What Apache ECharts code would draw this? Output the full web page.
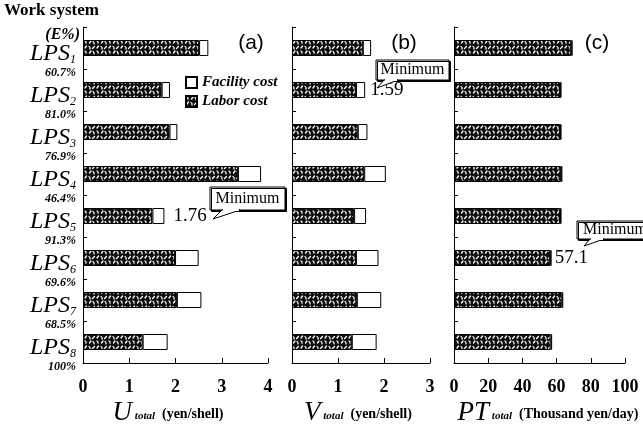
<!DOCTYPE html>
<html><head><meta charset="utf-8">
<script src="https://cdn.jsdelivr.net/npm/echarts@6/dist/echarts.min.js"></script>
<style>html,body{margin:0;padding:0;background:#fff}#c{width:643px;height:432px}</style>
</head><body><div id="c"></div>
<script>
// ---- data ----
const categories = ['1','2','3','4','5','6','7','8'];
const efficiency = ['60.7%','81.0%','76.9%','46.4%','91.3%','69.6%','68.5%','100%'];
const uLabor    = [2.51, 1.70, 1.87, 3.35, 1.50, 1.99, 2.03, 1.29];
const uFacility = [0.20, 0.18, 0.17, 0.50, 0.26, 0.51, 0.53, 0.54];
const vLabor    = [1.54, 1.39, 1.43, 1.57, 1.35, 1.39, 1.41, 1.30];
const vFacility = [0.18, 0.20, 0.21, 0.47, 0.26, 0.49, 0.53, 0.54];
const ptLabor    = [68.5, 62.0, 62.0, 62.5, 62.0, 56.2, 63.0, 56.5];
const ptFacility = [0.9, 0.9, 0.9, 0.9, 0.9, 0.9, 0.9, 0.9];
const uTicks = [0, 4, 1];      // min, max, interval
const vTicks = [0, 3, 1];
const ptTicks = [0, 100, 20];
const minimumMarks = [
  {panel: 'u', index: 4, text: '1.76'},
  {panel: 'v', index: 1, text: '1.59'},
  {panel: 'pt', index: 5, text: '57.1'}
];
const labelGap = {u: 9, v: 5, pt: 3};

const SERIF = 'Liberation Serif';
function makePattern(){
  const c = document.createElement('canvas'); c.width = 12; c.height = 10;
  const g = c.getContext('2d');
  g.fillStyle = '#0d0d0d'; g.fillRect(0,0,12,10);
  g.strokeStyle = '#fff'; g.lineWidth = 1.3; g.lineCap = 'round';
  g.beginPath();
  g.moveTo(1,1); g.quadraticCurveTo(2.5,1.5,2,3.2);
  g.moveTo(5.5,3); g.lineTo(7,1);
  g.moveTo(9,1.5); g.quadraticCurveTo(10.5,2.5,10,4);
  g.moveTo(2.5,6); g.lineTo(1,8);
  g.moveTo(5,6.5); g.quadraticCurveTo(6.5,7,6,9);
  g.moveTo(8.5,8.5); g.lineTo(10.5,6.5);
  g.stroke();
  return c;
}
const hatch = {image: makePattern(), repeat: 'repeat'};

const grids = [
  {left: 83, top: 27, width: 185, height: 336},
  {left: 292, top: 27, width: 138, height: 336},
  {left: 454, top: 27, width: 171, height: 336}
];
function xAxis(i, t){
  return {type:'value', gridIndex:i, min:t[0], max:t[1], interval:t[2],
    axisLine:{show:true, lineStyle:{color:'#000', width:1}},
    axisTick:{show:true, inside:true, length:5, lineStyle:{color:'#000'}},
    splitLine:{show:false},
    axisLabel:{margin:15, color:'#000', fontFamily:SERIF, fontWeight:'bold', fontSize:18, showMaxLabel:true, showMinLabel:true}};
}
function yAxis(i, showLabel){
  return {type:'category', gridIndex:i, data:categories, inverse:true,
    axisLine:{show:true, lineStyle:{color:'#000', width:1}},
    axisTick:{show:true, inside:true, length:4, lineStyle:{color:'#000'}},
    axisLabel: showLabel ? {
      margin:7, color:'#000', padding:[26,0,0,0],
      formatter:(v, idx) => `{a|LPS}{s|${v}}\n{p|${efficiency[idx]}}`,
      rich:{
        a:{fontFamily:SERIF, fontStyle:'italic', fontSize:24, lineHeight:24, color:'#000'},
        s:{fontFamily:SERIF, fontStyle:'italic', fontSize:12, lineHeight:24, verticalAlign:'bottom', color:'#000'},
        p:{fontFamily:SERIF, fontStyle:'italic', fontWeight:'bold', fontSize:12, lineHeight:14, color:'#000'}
      }} : {show:false}};
}
function facilityData(arr, key){
  return arr.map((v, i) => {
    const m = minimumMarks.find(mm => mm.panel === key && mm.index === i);
    if (!m) return v;
    return {value: v, label:{show:true, position:'right', distance:labelGap[key], formatter:m.text,
      fontFamily:SERIF, fontSize:19, color:'#000'}};
  });
}
function seriesPair(i, labor, facility, key){
  return [
    {name:'Labor cost', type:'bar', xAxisIndex:i, yAxisIndex:i, stack:'s'+i, barWidth:16,
      data:labor, itemStyle:{color:hatch, borderColor:'#000', borderWidth:1}, silent:true},
    {name:'Facility cost', type:'bar', xAxisIndex:i, yAxisIndex:i, stack:'s'+i, barWidth:16,
      data:facilityData(facility, key), itemStyle:{color:'#fff', borderColor:'#000', borderWidth:1}, silent:true}
  ];
}
function callout(x, y, w, h, tail, textX){
  return {type:'group', children:[
    {type:'rect', shape:{x:x, y:y, width:w, height:h},
      style:{fill:'#fff', stroke:'#000', lineWidth:1, shadowColor:'#000', shadowOffsetX:1.5, shadowOffsetY:1.5, shadowBlur:0}, z:10},
    {type:'polygon', shape:{points:tail}, style:{fill:'#fff', stroke:'#000', lineWidth:1}, z:11},
    {type:'line', shape:{x1:tail[0][0]+1, y1:tail[0][1], x2:tail[2][0]-1, y2:tail[2][1]}, style:{stroke:'#fff', lineWidth:2}, z:12},
    {type:'text', x: textX !== undefined ? textX : x + w/2, y: y + h/2,
      style:{text:'Minimum', fontFamily:SERIF, fontSize:16, fill:'#000',
        align: textX !== undefined ? 'left' : 'center', verticalAlign:'middle'}, z:13}
  ]};
}
function axisName(x, sym, unit){
  return {type:'text', x:x, y:413, style:{
    text:`{u|${sym}}{t| total}{y|  ${unit}}`, align:'center', verticalAlign:'middle',
    rich:{
      u:{fontFamily:SERIF, fontStyle:'italic', fontSize:27, fill:'#000'},
      t:{fontFamily:SERIF, fontStyle:'italic', fontWeight:'bold', fontSize:11, fill:'#000', padding:[6,0,0,0]},
      y:{fontFamily:SERIF, fontWeight:'bold', fontSize:14, fill:'#000', padding:[3,0,0,0]}
    }}};
}

const chart = echarts.init(document.getElementById('c'), null, {renderer:'canvas'});
chart.setOption({
  animation:false,
  backgroundColor:'#fff',
  grid: grids,
  xAxis:[xAxis(0, uTicks), xAxis(1, vTicks), xAxis(2, ptTicks)],
  yAxis:[yAxis(0, true), yAxis(1, false), yAxis(2, false)],
  legend:{orient:'vertical', left:180, top:70, itemWidth:11, itemHeight:11, itemGap:4, selectedMode:false,
    data:[{name:'Facility cost', icon:'rect'}, {name:'Labor cost', icon:'rect'}],
    textStyle:{fontFamily:SERIF, fontStyle:'italic', fontWeight:'bold', fontSize:15, color:'#000', lineHeight:13}},
  series:[...seriesPair(0, uLabor, uFacility, 'u'), ...seriesPair(1, vLabor, vFacility, 'v'), ...seriesPair(2, ptLabor, ptFacility, 'pt')],
  graphic:[
    {type:'text', x:4, y:2, style:{text:'Work system', fontFamily:SERIF, fontSize:17, fontWeight:'bold', fill:'#000'}},
    {type:'text', x:80, y:35, style:{text:'(E%)', fontFamily:SERIF, fontStyle:'italic', fontWeight:'bold', fontSize:16, fill:'#000', align:'right', verticalAlign:'middle'}},
    {type:'text', x:251, y:43, style:{text:'(a)', fontFamily:'Liberation Sans', fontSize:21, fill:'#000', align:'center', verticalAlign:'middle'}},
    {type:'text', x:404, y:43, style:{text:'(b)', fontFamily:'Liberation Sans', fontSize:21, fill:'#000', align:'center', verticalAlign:'middle'}},
    {type:'text', x:597, y:43, style:{text:'(c)', fontFamily:'Liberation Sans', fontSize:21, fill:'#000', align:'center', verticalAlign:'middle'}},
    axisName(168, 'U', '(yen/shell)'),
    axisName(358, 'V', '(yen/shell)'),
    axisName(548, 'PT', '(Thousand yen/day)'),
    callout(210, 187, 75, 23, [[222,210],[213,219],[240,210]]),
    callout(376, 60, 73, 20, [[384,80],[377,88],[398,80]]),
    callout(577, 221, 80, 18, [[590,239],[584,246],[604,239]], 583)
  ]
});
</script></body></html>
